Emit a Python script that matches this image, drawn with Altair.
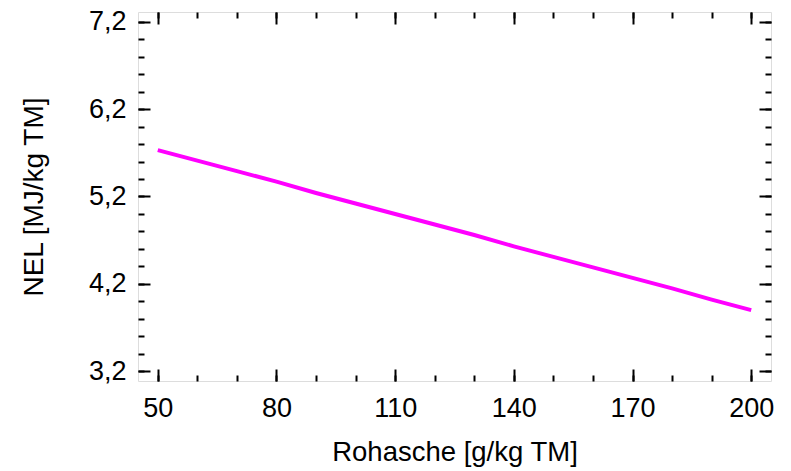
import altair as alt
import pandas as pd

rohasche = [50, 60, 70, 80, 90, 100, 110, 120, 130, 140, 150, 160, 170, 180, 190, 200]
nel = [5.73, 5.61, 5.49, 5.37, 5.24, 5.12, 5.00, 4.88, 4.76, 4.63, 4.51, 4.39, 4.27, 4.15, 4.02, 3.90]

x_major = [50, 80, 110, 140, 170, 200]
x_minor = list(range(50, 201, 10))
y_major = [3.2, 4.2, 5.2, 6.2, 7.2]
y_minor = [round(3.2 + 0.2 * i, 1) for i in range(21)]

df = pd.DataFrame({"x": rohasche, "y": nel})

W, H = 633, 369
FONT = "Liberation Sans"
xs = alt.Scale(domain=[45, 205], nice=False, zero=False)
ys = alt.Scale(domain=[3.09, 7.31], nice=False, zero=False)
comma = "replace(format(datum.value, '.1f'), '.', ',')"

base = alt.Chart(df)

main = base.mark_line(color="#FF00FF", strokeWidth=4).encode(
    x=alt.X("x:Q", scale=xs, axis=alt.Axis(
        orient="bottom", values=x_major, tickSize=0, domain=False, grid=False,
        labelFont=FONT, labelFontSize=27, labelColor="black", labelPadding=14,
        title="Rohasche [g/kg TM]", titleFont=FONT, titleFontSize=27.5,
        titleFontWeight="normal", titleColor="black", titlePadding=17)),
    y=alt.Y("y:Q", scale=ys, axis=alt.Axis(
        orient="left", values=y_major, tickSize=0, domain=False, grid=False,
        labelExpr=comma, labelFont=FONT, labelFontSize=27, labelColor="black",
        labelPadding=12, title="NEL [MJ/kg TM]", titleFont=FONT, titleFontSize=28,
        titleFontWeight="normal", titleColor="black", titlePadding=40)),
)


def tick_layer(xorient, xoff, xvals, yorient, yoff, yvals, size):
    return base.mark_line(opacity=0).encode(
        x=alt.X("x:Q", scale=xs, axis=alt.Axis(
            orient=xorient, offset=xoff, values=xvals, tickSize=size, tickWidth=2,
            tickColor="black", labels=False, domain=False, grid=False, title=None)),
        y=alt.Y("y:Q", scale=ys, axis=alt.Axis(
            orient=yorient, offset=yoff, values=yvals, tickSize=size, tickWidth=2,
            tickColor="black", labels=False, domain=False, grid=False, title=None)),
    )


layers = [
    main,
    tick_layer("top", -H, x_minor, "right", -W, y_minor, 6),
    tick_layer("top", -H, x_major, "right", -W, y_major, 12),
    tick_layer("bottom", -H, x_minor, "left", -W, y_minor, 6),
    tick_layer("bottom", -H, x_major, "left", -W, y_major, 12),
]

chart = alt.layer(*layers).resolve_axis(x="independent", y="independent").properties(
    width=W, height=H,
    autosize=alt.AutoSizeParams(type="none"),
    padding={"left": 130, "top": 4, "right": 12, "bottom": 90},
).configure_view(stroke="black", strokeWidth=2).configure(background="white")

chart.save("out.html", embed_options={"renderer": "svg", "actions": False})
